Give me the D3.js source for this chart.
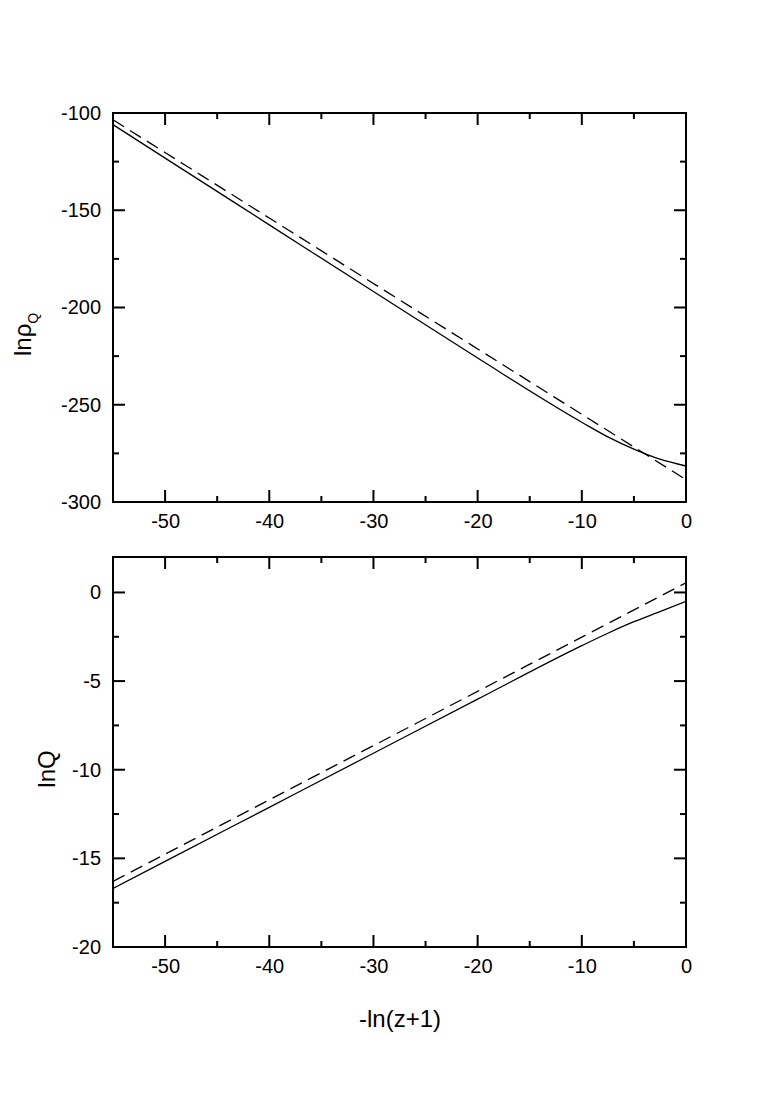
<!DOCTYPE html>
<html>
<head>
<meta charset="utf-8">
<script src="https://cdn.jsdelivr.net/npm/d3@7"></script>
<style>
  body { margin: 0; background: #fff; }
  text { font-family: "Liberation Sans", Arial, Helvetica, sans-serif; fill: #000; }
</style>
</head>
<body>
<svg id="chart" width="763" height="1112"></svg>
<script>
// ---- data ----
const xTicks = [-50, -40, -30, -20, -10, 0];
const topYTicks = [-100, -150, -200, -250, -300];
const botYTicks = [0, -5, -10, -15, -20];

const topSolidX = [-55, -50, -40, -30, -20, -10, -7.5, -5, -2.5, 0];
const topSolidY = [-106, -123.2, -157.5, -191.8, -226, -259, -266.5, -272.8, -278, -281.5];
const topDashX = [-55, -40, -20, 0];
const topDashY = [-103.5, -154, -221.3, -288.5];

const botSolidX = [-55, -50, -40, -30, -20, -10, -7.5, -5, -2.5, 0];
const botSolidY = [-16.7, -15.17, -12.12, -9.07, -6.02, -3.0, -2.3, -1.65, -1.08, -0.5];
const botDashX = [-55, -40, -20, 0];
const botDashY = [-16.3, -11.7, -5.58, 0.55];

// ---- layout ----
const svg = d3.select("#chart");
const left = 113, right = 686;
const fmt = d => String(d);

function panel(cfg) {
  const x = d3.scaleLinear().domain([-55, 0]).range([left, right]);
  const y = d3.scaleLinear().domain(cfg.yDomain).range([cfg.bottom, cfg.top]);
  const g = svg.append("g");

  const majLen = 12, minLen = 6;
  const xMinor = d3.range(-55, 0.001, 5).filter(v => !xTicks.includes(v));
  const yMinor = cfg.yMinor;

  g.append("g").attr("transform", `translate(0,${cfg.bottom})`)
    .call(d3.axisBottom(x).tickValues(xTicks).tickSize(0).tickPadding(12).tickFormat(fmt))
    .call(a => a.select(".domain").remove())
    .call(a => a.attr("font-size", 20).attr("font-family", "Liberation Sans, Arial, sans-serif"));

  g.append("g").attr("transform", `translate(${left},0)`)
    .call(d3.axisLeft(y).tickValues(cfg.yTicks).tickSize(0).tickPadding(12).tickFormat(fmt))
    .call(a => a.select(".domain").remove())
    .call(a => a.attr("font-size", 20).attr("font-family", "Liberation Sans, Arial, sans-serif"));

  const ticks = g.append("g").attr("stroke", "#000").attr("stroke-width", 2);
  xTicks.forEach(v => {
    ticks.append("line").attr("x1", x(v)).attr("x2", x(v)).attr("y1", cfg.bottom).attr("y2", cfg.bottom - majLen);
    ticks.append("line").attr("x1", x(v)).attr("x2", x(v)).attr("y1", cfg.top).attr("y2", cfg.top + majLen);
  });
  xMinor.forEach(v => {
    ticks.append("line").attr("x1", x(v)).attr("x2", x(v)).attr("y1", cfg.bottom).attr("y2", cfg.bottom - minLen);
    ticks.append("line").attr("x1", x(v)).attr("x2", x(v)).attr("y1", cfg.top).attr("y2", cfg.top + minLen);
  });
  cfg.yTicks.forEach(v => {
    ticks.append("line").attr("x1", left).attr("x2", left + majLen).attr("y1", y(v)).attr("y2", y(v));
    ticks.append("line").attr("x1", right).attr("x2", right - majLen).attr("y1", y(v)).attr("y2", y(v));
  });
  yMinor.forEach(v => {
    ticks.append("line").attr("x1", left).attr("x2", left + minLen).attr("y1", y(v)).attr("y2", y(v));
    ticks.append("line").attr("x1", right).attr("x2", right - minLen).attr("y1", y(v)).attr("y2", y(v));
  });

  const line = d3.line().x(d => x(d[0])).y(d => y(d[1])).curve(d3.curveMonotoneX);
  const clipId = "clip" + cfg.id;
  svg.append("clipPath").attr("id", clipId).append("rect")
    .attr("x", left).attr("y", cfg.top).attr("width", right - left).attr("height", cfg.bottom - cfg.top);
  g.append("path").datum(d3.zip(cfg.solidX, cfg.solidY))
    .attr("d", line).attr("fill", "none").attr("stroke", "#000").attr("stroke-width", 1.3)
    .attr("clip-path", `url(#${clipId})`);
  g.append("path").datum(d3.zip(cfg.dashX, cfg.dashY))
    .attr("d", line).attr("fill", "none").attr("stroke", "#000").attr("stroke-width", 1.3)
    .attr("stroke-dasharray", "13,7").attr("clip-path", `url(#${clipId})`);

  g.append("rect").attr("x", left).attr("y", cfg.top).attr("width", right - left)
    .attr("height", cfg.bottom - cfg.top).attr("fill", "none").attr("stroke", "#000").attr("stroke-width", 2);

  return { x, y, g };
}

panel({
  id: 1, top: 113, bottom: 502, yDomain: [-300, -100], yTicks: topYTicks,
  yMinor: [-125, -175, -225, -275],
  solidX: topSolidX, solidY: topSolidY, dashX: topDashX, dashY: topDashY
});
panel({
  id: 2, top: 557, bottom: 947, yDomain: [-20, 2], yTicks: botYTicks,
  yMinor: [-2.5, -7.5, -12.5, -17.5],
  solidX: botSolidX, solidY: botSolidY, dashX: botDashX, dashY: botDashY
});

const t1 = svg.append("text").attr("transform", "translate(31,356) rotate(-90)")
  .attr("text-anchor", "start").attr("font-size", 24);
t1.append("tspan").text("lnρ");
t1.append("tspan").text("Q").attr("font-size", 14).attr("dy", 7);

svg.append("text").attr("transform", "translate(55,769) rotate(-90)")
  .attr("text-anchor", "middle").attr("font-size", 24).text("lnQ");

svg.append("text").attr("x", 400).attr("y", 1027)
  .attr("text-anchor", "middle").attr("font-size", 24).text("-ln(z+1)");
</script>
</body>
</html>
